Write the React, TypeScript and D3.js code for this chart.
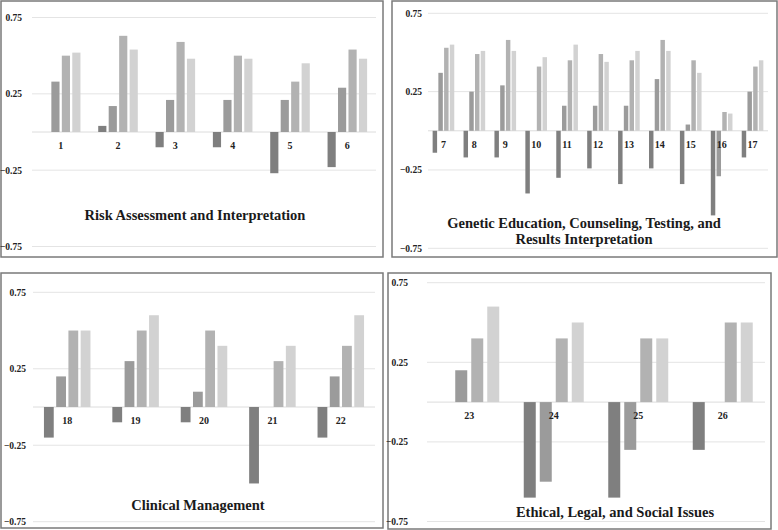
import React from "react";
import * as d3 from "d3";

// ---------- data ----------
const tickValues = [0.75, 0.25, -0.25, -0.75];

const riskCategories = ["1", "2", "3", "4", "5", "6"];
const riskSeries1 = [0, 0.04, -0.1, -0.1, -0.27, -0.23];
const riskSeries2 = [0.33, 0.17, 0.21, 0.21, 0.21, 0.29];
const riskSeries3 = [0.5, 0.63, 0.59, 0.5, 0.33, 0.54];
const riskSeries4 = [0.52, 0.54, 0.48, 0.48, 0.45, 0.48];

const geneticCategories = ["7", "8", "9", "10", "11", "12", "13", "14", "15", "16", "17"];
const geneticSeries1 = [-0.14, -0.17, -0.17, -0.4, -0.3, -0.24, -0.34, -0.24, -0.34, -0.54, -0.17];
const geneticSeries2 = [0.37, 0.25, 0.29, 0, 0.16, 0.16, 0.16, 0.33, 0.04, -0.29, 0.25];
const geneticSeries3 = [0.53, 0.49, 0.58, 0.41, 0.45, 0.49, 0.45, 0.58, 0.45, 0.12, 0.41];
const geneticSeries4 = [0.55, 0.51, 0.51, 0.47, 0.55, 0.44, 0.51, 0.51, 0.37, 0.11, 0.45];

const clinicalCategories = ["18", "19", "20", "21", "22"];
const clinicalSeries1 = [-0.2, -0.1, -0.1, -0.5, -0.2];
const clinicalSeries2 = [0.2, 0.3, 0.1, 0, 0.2];
const clinicalSeries3 = [0.5, 0.5, 0.5, 0.3, 0.4];
const clinicalSeries4 = [0.5, 0.6, 0.4, 0.4, 0.6];

const ethicalCategories = ["23", "24", "25", "26"];
const ethicalSeries1 = [0, -0.6, -0.6, -0.3];
const ethicalSeries2 = [0.2, -0.5, -0.3, 0];
const ethicalSeries3 = [0.4, 0.4, 0.4, 0.5];
const ethicalSeries4 = [0.6, 0.5, 0.4, 0.5];

const seriesColors = ["#7f7f7f", "#9b9b9b", "#b2b2b2", "#d2d2d2"];

// ---------- layout ----------
type PanelCfg = {
  box: [number, number, number, number]; // x0,y0,x1,y1
  yTop: number; // y of 0.75
  yBot: number; // y of -0.75
  xPlot: [number, number];
  tickX: number;
  categories: string[];
  series: number[][];
  title: string[];
  titleX: number;
  titleY: number;
  groupFrac: number;
  barPad: number;
};

const panels: PanelCfg[] = [
  {
    box: [1, 1, 383, 257],
    yTop: 17.5,
    yBot: 246.5,
    xPlot: [32, 376],
    tickX: 22,
    categories: riskCategories,
    series: [riskSeries1, riskSeries2, riskSeries3, riskSeries4],
    title: ["Risk Assessment and Interpretation"],
    titleX: 195,
    titleY: 220,
    groupFrac: 0.69,
    barPad: 0.22,
  },
  {
    box: [392, 1, 777, 257],
    yTop: 13.3,
    yBot: 248.3,
    xPlot: [428, 768],
    tickX: 422,
    categories: geneticCategories,
    series: [geneticSeries1, geneticSeries2, geneticSeries3, geneticSeries4],
    title: ["Genetic Education, Counseling, Testing, and", "Results Interpretation"],
    titleX: 584,
    titleY: 228,
    groupFrac: 0.7,
    barPad: 0.22,
  },
  {
    box: [1, 273, 383, 528],
    yTop: 292.3,
    yBot: 521.7,
    xPlot: [33, 375],
    tickX: 26,
    categories: clinicalCategories,
    series: [clinicalSeries1, clinicalSeries2, clinicalSeries3, clinicalSeries4],
    title: ["Clinical Management"],
    titleX: 198,
    titleY: 510,
    groupFrac: 0.68,
    barPad: 0.2,
  },
  {
    box: [388, 273, 771, 529],
    yTop: 282.7,
    yBot: 521.5,
    xPlot: [427, 765],
    tickX: 408,
    categories: ethicalCategories,
    series: [ethicalSeries1, ethicalSeries2, ethicalSeries3, ethicalSeries4],
    title: ["Ethical, Legal, and Social Issues"],
    titleX: 615,
    titleY: 517,
    groupFrac: 0.71,
    barPad: 0.25,
  },
];

const FONT = "'Liberation Serif', 'Times New Roman', serif";

function Panel({ cfg }: { cfg: PanelCfg }) {
  const [bx0, by0, bx1, by1] = cfg.box;
  const y = d3.scaleLinear().domain([-0.75, 0.75]).range([cfg.yBot, cfg.yTop]);
  const x0 = d3.scaleBand<string>().domain(cfg.categories).range(cfg.xPlot).padding(0);
  const step = x0.bandwidth();
  const gw = step * cfg.groupFrac;
  const x1 = d3
    .scaleBand<number>()
    .domain(cfg.series.map((_, i) => i))
    .range([0, gw])
    .paddingInner(cfg.barPad)
    .paddingOuter(0);
  const zero = y(0);
  return (
    <g>
      <rect
        x={bx0}
        y={by0}
        width={bx1 - bx0}
        height={by1 - by0}
        fill="#fff"
        stroke="#7a7a7a"
        strokeWidth={1.5}
      />
      {tickValues.map((t) => (
        <g key={t}>
          <line x1={cfg.xPlot[0]} x2={cfg.xPlot[1]} y1={y(t)} y2={y(t)} stroke="#e4e4e4" strokeWidth={1} />
          <text
            x={cfg.tickX}
            y={y(t) + 3.5}
            textAnchor="end"
            fontFamily={FONT}
            fontWeight="bold"
            fontSize={9.5}
            fill="#222"
          >
            {d3.format(".2f")(t)}
          </text>
        </g>
      ))}
      <line x1={cfg.xPlot[0]} x2={cfg.xPlot[1]} y1={zero} y2={zero} stroke="#dcdcdc" strokeWidth={1} />
      {cfg.categories.map((c, ci) => {
        const gx = (x0(c) as number) + (step - gw) / 2;
        return (
          <g key={c}>
            {cfg.series.map((s, si) => {
              const v = s[ci];
              if (v === 0) return null;
              const top = Math.min(y(v), zero);
              const h = Math.abs(y(v) - zero);
              return (
                <rect
                  key={si}
                  x={gx + (x1(si) as number)}
                  y={top}
                  width={x1.bandwidth()}
                  height={h}
                  fill={seriesColors[si]}
                />
              );
            })}
            <text
              x={(x0(c) as number) + step / 2}
              y={zero + 17}
              textAnchor="middle"
              fontFamily={FONT}
              fontWeight="bold"
              fontSize={10}
              fill="#222"
            >
              {c}
            </text>
          </g>
        );
      })}
      {cfg.title.map((t, i) => (
        <text
          key={i}
          x={cfg.titleX}
          y={cfg.titleY + i * 16}
          textAnchor="middle"
          fontFamily={FONT}
          fontWeight="bold"
          fontSize={14.5}
          fill="#1a1a1a"
        >
          {t}
        </text>
      ))}
    </g>
  );
}

export default function App() {
  return (
    <svg
      width={778}
      height={530}
      style={{ position: "absolute", left: 0, top: 0, background: "#fff" }}
    >
      <rect x={0} y={0} width={778} height={530} fill="#fff" />
      {panels.map((p, i) => (
        <Panel key={i} cfg={p} />
      ))}
    </svg>
  );
}
